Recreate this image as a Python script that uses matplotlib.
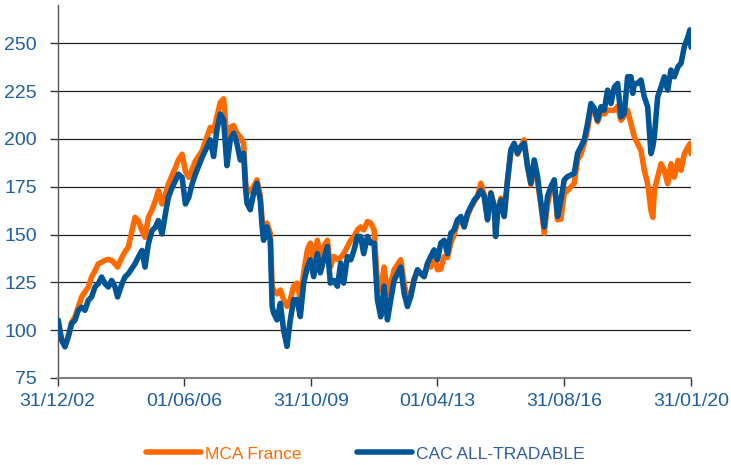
import matplotlib
matplotlib.use("Agg")
import matplotlib.pyplot as plt

plt.rcParams['font.family'] = ['Liberation Sans', 'DejaVu Sans']

# time in decimal years
t = [2003.00, 2003.02, 2003.11, 2003.20, 2003.29, 2003.38, 2003.47, 2003.56,
     2003.65, 2003.74, 2003.83, 2003.92, 2004.01, 2004.10, 2004.19, 2004.28,
     2004.37, 2004.46, 2004.55, 2004.62, 2004.74, 2004.82, 2004.91, 2005.09,
     2005.18, 2005.28, 2005.36, 2005.45, 2005.55, 2005.64, 2005.72, 2005.82,
     2005.91, 2005.99, 2006.09, 2006.18, 2006.26, 2006.36, 2006.45, 2006.54,
     2006.63, 2006.72, 2006.90, 2007.12, 2007.21, 2007.30, 2007.39, 2007.48,
     2007.57, 2007.66, 2007.75, 2007.84, 2007.93, 2008.02, 2008.07, 2008.11,
     2008.20, 2008.29, 2008.38, 2008.47, 2008.52, 2008.56, 2008.65, 2008.74,
     2008.79, 2008.83, 2008.92, 2009.01, 2009.10, 2009.19, 2009.28, 2009.37,
     2009.46, 2009.55, 2009.64, 2009.74, 2009.82, 2009.91, 2010.01, 2010.09,
     2010.18, 2010.28, 2010.36, 2010.45, 2010.55, 2010.64, 2010.72, 2010.82,
     2010.91, 2011.00, 2011.09, 2011.18, 2011.26, 2011.36, 2011.45, 2011.54,
     2011.63, 2011.72, 2011.81, 2011.90, 2011.99, 2012.08, 2012.26, 2012.35,
     2012.44, 2012.53, 2012.62, 2012.71, 2012.89, 2012.98, 2013.07, 2013.16,
     2013.25, 2013.34, 2013.43, 2013.52, 2013.61, 2013.70, 2013.79, 2013.88,
     2013.97, 2014.06, 2014.15, 2014.24, 2014.33, 2014.42, 2014.51, 2014.60,
     2014.69, 2014.78, 2014.82, 2014.87, 2014.96, 2015.05, 2015.14, 2015.23,
     2015.32, 2015.41, 2015.50, 2015.59, 2015.68, 2015.77, 2015.86, 2015.95,
     2016.04, 2016.13, 2016.22, 2016.31, 2016.40, 2016.49, 2016.58, 2016.67,
     2016.76, 2016.94, 2017.03, 2017.12, 2017.21, 2017.30, 2017.39, 2017.48,
     2017.57, 2017.66, 2017.75, 2017.84, 2017.93, 2018.02, 2018.11, 2018.20,
     2018.29, 2018.38, 2018.47, 2018.52, 2018.56, 2018.65, 2018.74, 2018.83,
     2018.92, 2019.01, 2019.06, 2019.10, 2019.19, 2019.28, 2019.37, 2019.46,
     2019.55, 2019.64, 2019.74, 2019.82, 2019.91, 2020.01, 2020.06, 2020.09]

cac = [105, 105.2, 94.8, 91.3, 96.5, 103.5, 105.2, 110.4,
       112, 110.4, 115.6, 117.4, 122.6, 124.3, 127.8, 124.3,
       122.6, 126, 122.6, 117.4, 124.3, 127.8, 129.5, 134.7,
       138.2, 141.7, 133, 145.1, 152.1, 153.8, 157.3, 150.3,
       160.8, 169.4, 174.6, 178.1, 181.6, 179.9, 166, 169.4,
       176.4, 181.6, 190.3, 199.5, 190.8, 204.7, 213, 210,
       186, 199.5, 203, 197.7, 189, 192.5, 175, 166.4,
       163, 171.6, 176.8, 168, 154, 147, 154, 147,
       112.4, 109, 105.4, 114, 100, 91.5, 105.4, 116,
       116, 107.1, 124.6, 133, 136.8, 128, 140, 130,
       136.8, 143.7, 124.6, 126, 123, 135, 124.6, 138.5,
       136.8, 142, 149, 149, 140, 149, 145.5, 145.5,
       116, 107, 123, 105.4, 116, 126, 133, 119.3,
       112.4, 117.6, 126, 131.6, 128, 135, 138.5, 142,
       136.8, 145.5, 147, 140, 150.7, 152.4, 157.7, 159.4,
       154, 161, 164.6, 168, 170, 173.1, 170, 157.7,
       171.6, 164.6, 149, 161, 168, 159.4, 178.6, 194.3,
       197.7, 192.5, 196, 197.7, 185.5, 176.8, 189, 180.3,
       166.4, 154, 170, 175, 178.6, 159.4, 168, 178.6,
       180.3, 182, 192.5, 196, 199.5, 208, 218.5, 216,
       209.8, 216.8, 215, 225.5, 218.5, 227, 229, 211.5,
       213.3, 232.5, 232.5, 223.8, 229, 229, 230.8, 222,
       216.8, 192.3, 196, 201, 222, 227, 232.5, 225.5,
       236, 232.5, 237.8, 239.5, 248.3, 253.5, 257, 248]

mca = [102, 103, 95, 92, 97, 104, 107, 112,
       117.4, 120, 122.6, 127.8, 131, 134.7, 135.5, 136.5,
       137, 136.5, 134.7, 133, 138.2, 141, 143.4, 159,
       157.3, 152, 148.6, 159, 163, 167.7, 172.9, 166,
       171, 176.4, 181, 185, 189, 192, 183, 179.9,
       184, 188.5, 193.7, 206, 204, 211.7, 219, 221,
       200, 206, 207, 203, 201, 197.7, 178.6, 171.6,
       173, 175, 178.6, 170, 157.7, 150.7, 156, 150.7,
       123, 121, 119, 121, 116, 112.4, 116, 123,
       124.6, 116, 130, 142, 145.5, 135, 147, 136.8,
       143.7, 147, 133, 138.5, 137, 138, 140, 143.7,
       147, 149, 152.4, 154, 152.4, 156.8, 156, 152.4,
       124.6, 121, 133, 119, 124.6, 131.6, 136.8, 124.6,
       116, 119, 127, 131, 128, 134, 133, 140,
       131.6, 132, 138.5, 138, 145.5, 150, 156, 158,
       154, 160, 164, 167, 170, 176.8, 171, 158,
       172, 165, 150, 162, 169, 160, 178, 193,
       197, 192, 196, 199.5, 186, 176, 188, 177,
       166, 150.7, 166, 174, 177, 157.7, 158, 171.6,
       173, 176.8, 189, 192, 197.7, 205, 216, 215,
       209, 214, 213, 215, 215, 215, 217, 209.8,
       212, 215, 208, 204, 201, 197.5, 194, 183.6,
       176.6, 162.6, 159, 173, 180, 187, 183.6, 176.6,
       187, 180, 188.8, 183.6, 192.3, 195.8, 197.5, 192.3]

xtick_pos = [2003.00, 2006.42, 2009.83, 2013.25, 2016.67, 2020.09]
xtick_labels = ['31/12/02', '01/06/06', '31/10/09', '01/04/13', '31/08/16', '31/01/20']
yticks = [75, 100, 125, 150, 175, 200, 225, 250]

orange = '#ff6a00'
blue = '#005596'
label_blue = '#1f5fa0'

fig = plt.figure(figsize=(7.31, 4.65), dpi=100)
ax = fig.add_axes([0.0787, 0.1871, 0.8666, 0.8021])

ax.plot(t, mca, color=orange, lw=4, solid_capstyle='round', solid_joinstyle='round',
        label='MCA France', zorder=3)
ax.plot(t, cac, color=blue, lw=4, solid_capstyle='round', solid_joinstyle='round',
        label='CAC ALL-TRADABLE', zorder=4)

ax.set_xlim(2003.0, 2020.09)
ax.set_ylim(75, 270)
ax.set_yticks(yticks)
ax.set_xticks(xtick_pos)
ax.set_xticklabels(xtick_labels)
for y in yticks[1:]:
    ax.axhline(y, color='#222222', lw=0.9, zorder=1)

for s in ['top', 'right']:
    ax.spines[s].set_visible(False)
ax.spines['left'].set_color('#555555')
ax.spines['left'].set_linewidth(1.0)
ax.spines['bottom'].set_color('#7f7f7f')
ax.spines['bottom'].set_linewidth(1.5)

ax.tick_params(axis='y', direction='out', length=6, width=1, color='#333333',
               labelsize=14, labelcolor=label_blue, pad=9)
ax.tick_params(axis='x', direction='out', length=6, width=1, color='#333333',
               labelsize=14, labelcolor=label_blue, pad=5)

leg = fig.legend(loc='center', bbox_to_anchor=(365 / 731, 1 - 454 / 465), ncol=2,
                 frameon=False, fontsize=12.5, handlelength=3.2, handletextpad=0.2,
                 columnspacing=3.2)
for line in leg.get_lines():
    line.set_linewidth(4)
    line.set_solid_capstyle('round')
for txt, c in zip(leg.get_texts(), [orange, '#2f5f98']):
    txt.set_color(c)

fig.savefig('out.png', dpi=100)
